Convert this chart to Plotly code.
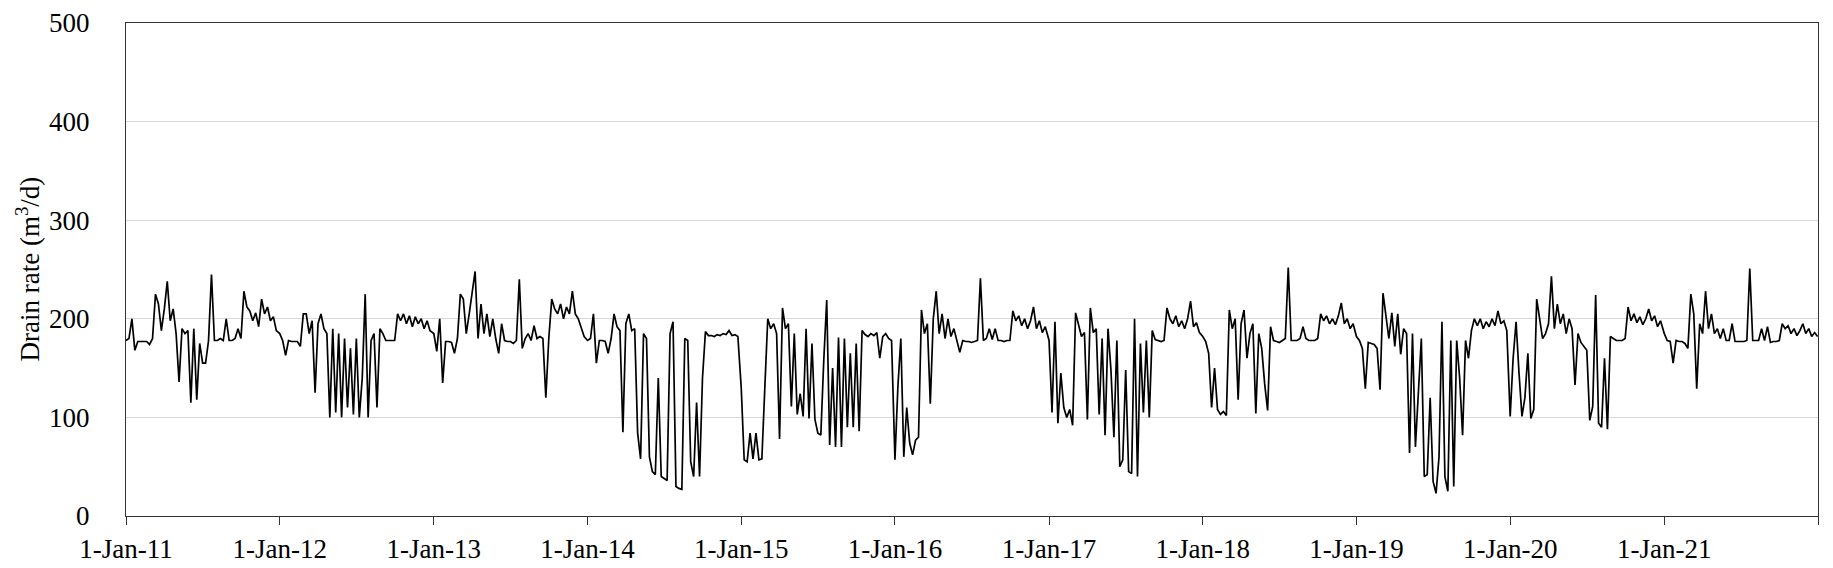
import pandas as pd
import plotly.graph_objects as go

# Weekly readings (m3/d), one list per calendar year
vals_2011 = [178, 180, 200, 168, 177, 177, 177, 177, 174, 180, 225, 215, 188, 210, 238, 198, 210, 185, 136, 190,
             185, 188, 115, 190, 118, 175, 155, 155, 178, 245, 178, 178, 180, 178, 200, 178, 178, 180, 190, 180,
             228, 212, 208, 198, 206, 192, 220, 205, 212, 198, 202, 188]
vals_2012 = [185, 178, 163, 178, 177, 177, 177, 172, 205, 205, 185, 198, 125, 195, 205, 190, 185, 100, 190, 105,
             185, 100, 180, 110, 170, 103, 180, 100, 140, 225, 100, 178, 185, 110, 190, 185, 178, 178, 178, 178,
             205, 198, 205, 195, 203, 192, 202, 195, 200, 190, 198, 188]
vals_2013 = [185, 167, 200, 135, 177, 177, 176, 165, 180, 225, 220, 185, 205, 225, 248, 180, 215, 185, 205, 182,
             200, 180, 165, 195, 178, 177, 177, 175, 178, 240, 170, 180, 185, 178, 193, 180, 182, 180, 120, 180,
             220, 210, 205, 215, 200, 212, 205, 228, 205, 200, 190, 182]
vals_2014 = [178, 180, 205, 155, 178, 178, 177, 165, 180, 205, 192, 188, 85, 195, 205, 188, 190, 84, 58, 185,
             180, 60, 45, 42, 140, 40, 38, 36, 185, 197, 30, 28, 27, 180, 178, 55, 40, 115, 40, 140,
             187, 183, 183, 182, 184, 183, 185, 184, 188, 183, 184, 182]
vals_2015 = [130, 57, 55, 84, 58, 84, 57, 58, 130, 200, 190, 195, 185, 78, 211, 190, 195, 111, 185, 103,
             124, 101, 190, 99, 175, 98, 84, 82, 158, 219, 72, 150, 70, 181, 70, 180, 90, 165, 90, 175,
             86, 188, 184, 182, 185, 183, 186, 160, 182, 185, 180, 178]
vals_2016 = [57, 131, 180, 60, 110, 74, 62, 77, 80, 209, 185, 195, 114, 200, 228, 185, 205, 180, 200, 182,
             190, 178, 166, 178, 177, 177, 176, 177, 178, 241, 178, 180, 190, 179, 190, 178, 178, 177, 178, 178,
             208, 198, 203, 193, 200, 190, 198, 212, 190, 198, 186, 192]
vals_2017 = [178, 105, 197, 94, 145, 110, 100, 108, 92, 206, 195, 182, 186, 98, 211, 186, 190, 103, 180, 82,
             190, 148, 80, 178, 50, 57, 148, 45, 43, 200, 40, 175, 105, 178, 100, 188, 179, 178, 177, 178,
             211, 200, 195, 203, 192, 198, 190, 200, 218, 192, 196, 186]
vals_2018 = [182, 177, 165, 110, 150, 108, 103, 106, 102, 209, 190, 200, 118, 195, 209, 160, 185, 195, 104, 185,
             170, 134, 107, 192, 178, 177, 176, 178, 180, 252, 178, 178, 178, 180, 192, 180, 178, 178, 178, 180,
             205, 198, 203, 195, 200, 194, 203, 216, 195, 200, 190, 195]
vals_2019 = [182, 178, 170, 129, 176, 175, 174, 170, 128, 226, 205, 180, 206, 172, 205, 164, 190, 185, 64, 185,
             70, 120, 180, 40, 42, 120, 35, 23, 60, 197, 40, 25, 178, 30, 178, 140, 82, 178, 160, 188,
             200, 193, 200, 190, 197, 192, 200, 193, 208, 195, 198, 188]
vals_2020 = [101, 160, 197, 145, 101, 120, 165, 99, 108, 220, 200, 180, 185, 195, 243, 190, 215, 195, 205, 185,
             200, 190, 133, 185, 176, 172, 168, 97, 111, 224, 94, 90, 160, 88, 182, 180, 178, 178, 178, 180,
             212, 198, 205, 196, 202, 194, 200, 210, 198, 203, 192, 198]
vals_2021 = [185, 178, 177, 155, 178, 177, 177, 175, 170, 225, 205, 129, 195, 185, 228, 190, 205, 185, 190, 180,
             190, 178, 178, 195, 177, 177, 177, 177, 178, 251, 178, 178, 178, 190, 178, 192, 176, 177, 177, 178,
             195, 190, 193, 185, 190, 183, 188, 195, 185, 190, 182, 186, 182]

series_by_year = {
    2011: vals_2011, 2012: vals_2012, 2013: vals_2013, 2014: vals_2014,
    2015: vals_2015, 2016: vals_2016, 2017: vals_2017, 2018: vals_2018,
    2019: vals_2019, 2020: vals_2020, 2021: vals_2021,
}

tick_years = list(range(2011, 2023))
tick_labels = ["1-Jan-%02d" % (y % 100) for y in range(2011, 2022)] + [""]
y_ticks = [0, 100, 200, 300, 400, 500]
y_title = "Drain rate (m<sup>3</sup>/d)"

dates = []
values = []
for yr, vals in series_by_year.items():
    d = pd.date_range(f"{yr}-01-01", periods=len(vals), freq="7D")
    dates.extend(d)
    values.extend(vals)

fig = go.Figure()
fig.add_trace(go.Scatter(x=dates, y=values, mode="lines",
                         line=dict(color="black", width=1.7), hoverinfo="x+y"))

axis_col = "#333333"
FONT = "Liberation Serif, Times New Roman, serif"
# page body adds an 8px offset, so the figure is sized 8px smaller than the window
fig.update_layout(
    width=1825, height=560,
    margin=dict(l=118, r=15, t=15, b=52, autoexpand=False),
    plot_bgcolor="white", paper_bgcolor="white",
    showlegend=False,
    font=dict(family=FONT, size=27, color="black"),
    xaxis=dict(
        type="date", automargin=False,
        range=["2011-01-01", "2022-01-01"],
        tickvals=[f"{y}-01-01" for y in tick_years],
        ticktext=tick_labels,
        ticks="outside", ticklen=8, tickcolor=axis_col, tickwidth=1,
        showline=True, linecolor=axis_col, linewidth=1.2, mirror=True,
        showgrid=False, zeroline=False,
        tickfont=dict(family=FONT, size=27, color="black"),
    ),
    yaxis=dict(
        automargin=False,
        range=[0, 500],
        tickvals=y_ticks,
        showgrid=True, gridcolor="#d9d9d9", gridwidth=1,
        showline=True, linecolor=axis_col, linewidth=1.2, mirror=True,
        zeroline=False, ticks="",
        ticklabelstandoff=30,
        tickfont=dict(family=FONT, size=27, color="black"),
    ),
    annotations=[dict(
        text=y_title, textangle=-90, showarrow=False,
        xref="paper", yref="paper", x=-0.0585, y=0.5,
        xanchor="center", yanchor="middle",
        font=dict(family=FONT, size=27, color="black"),
    )],
)

fig.write_html("out.html")
